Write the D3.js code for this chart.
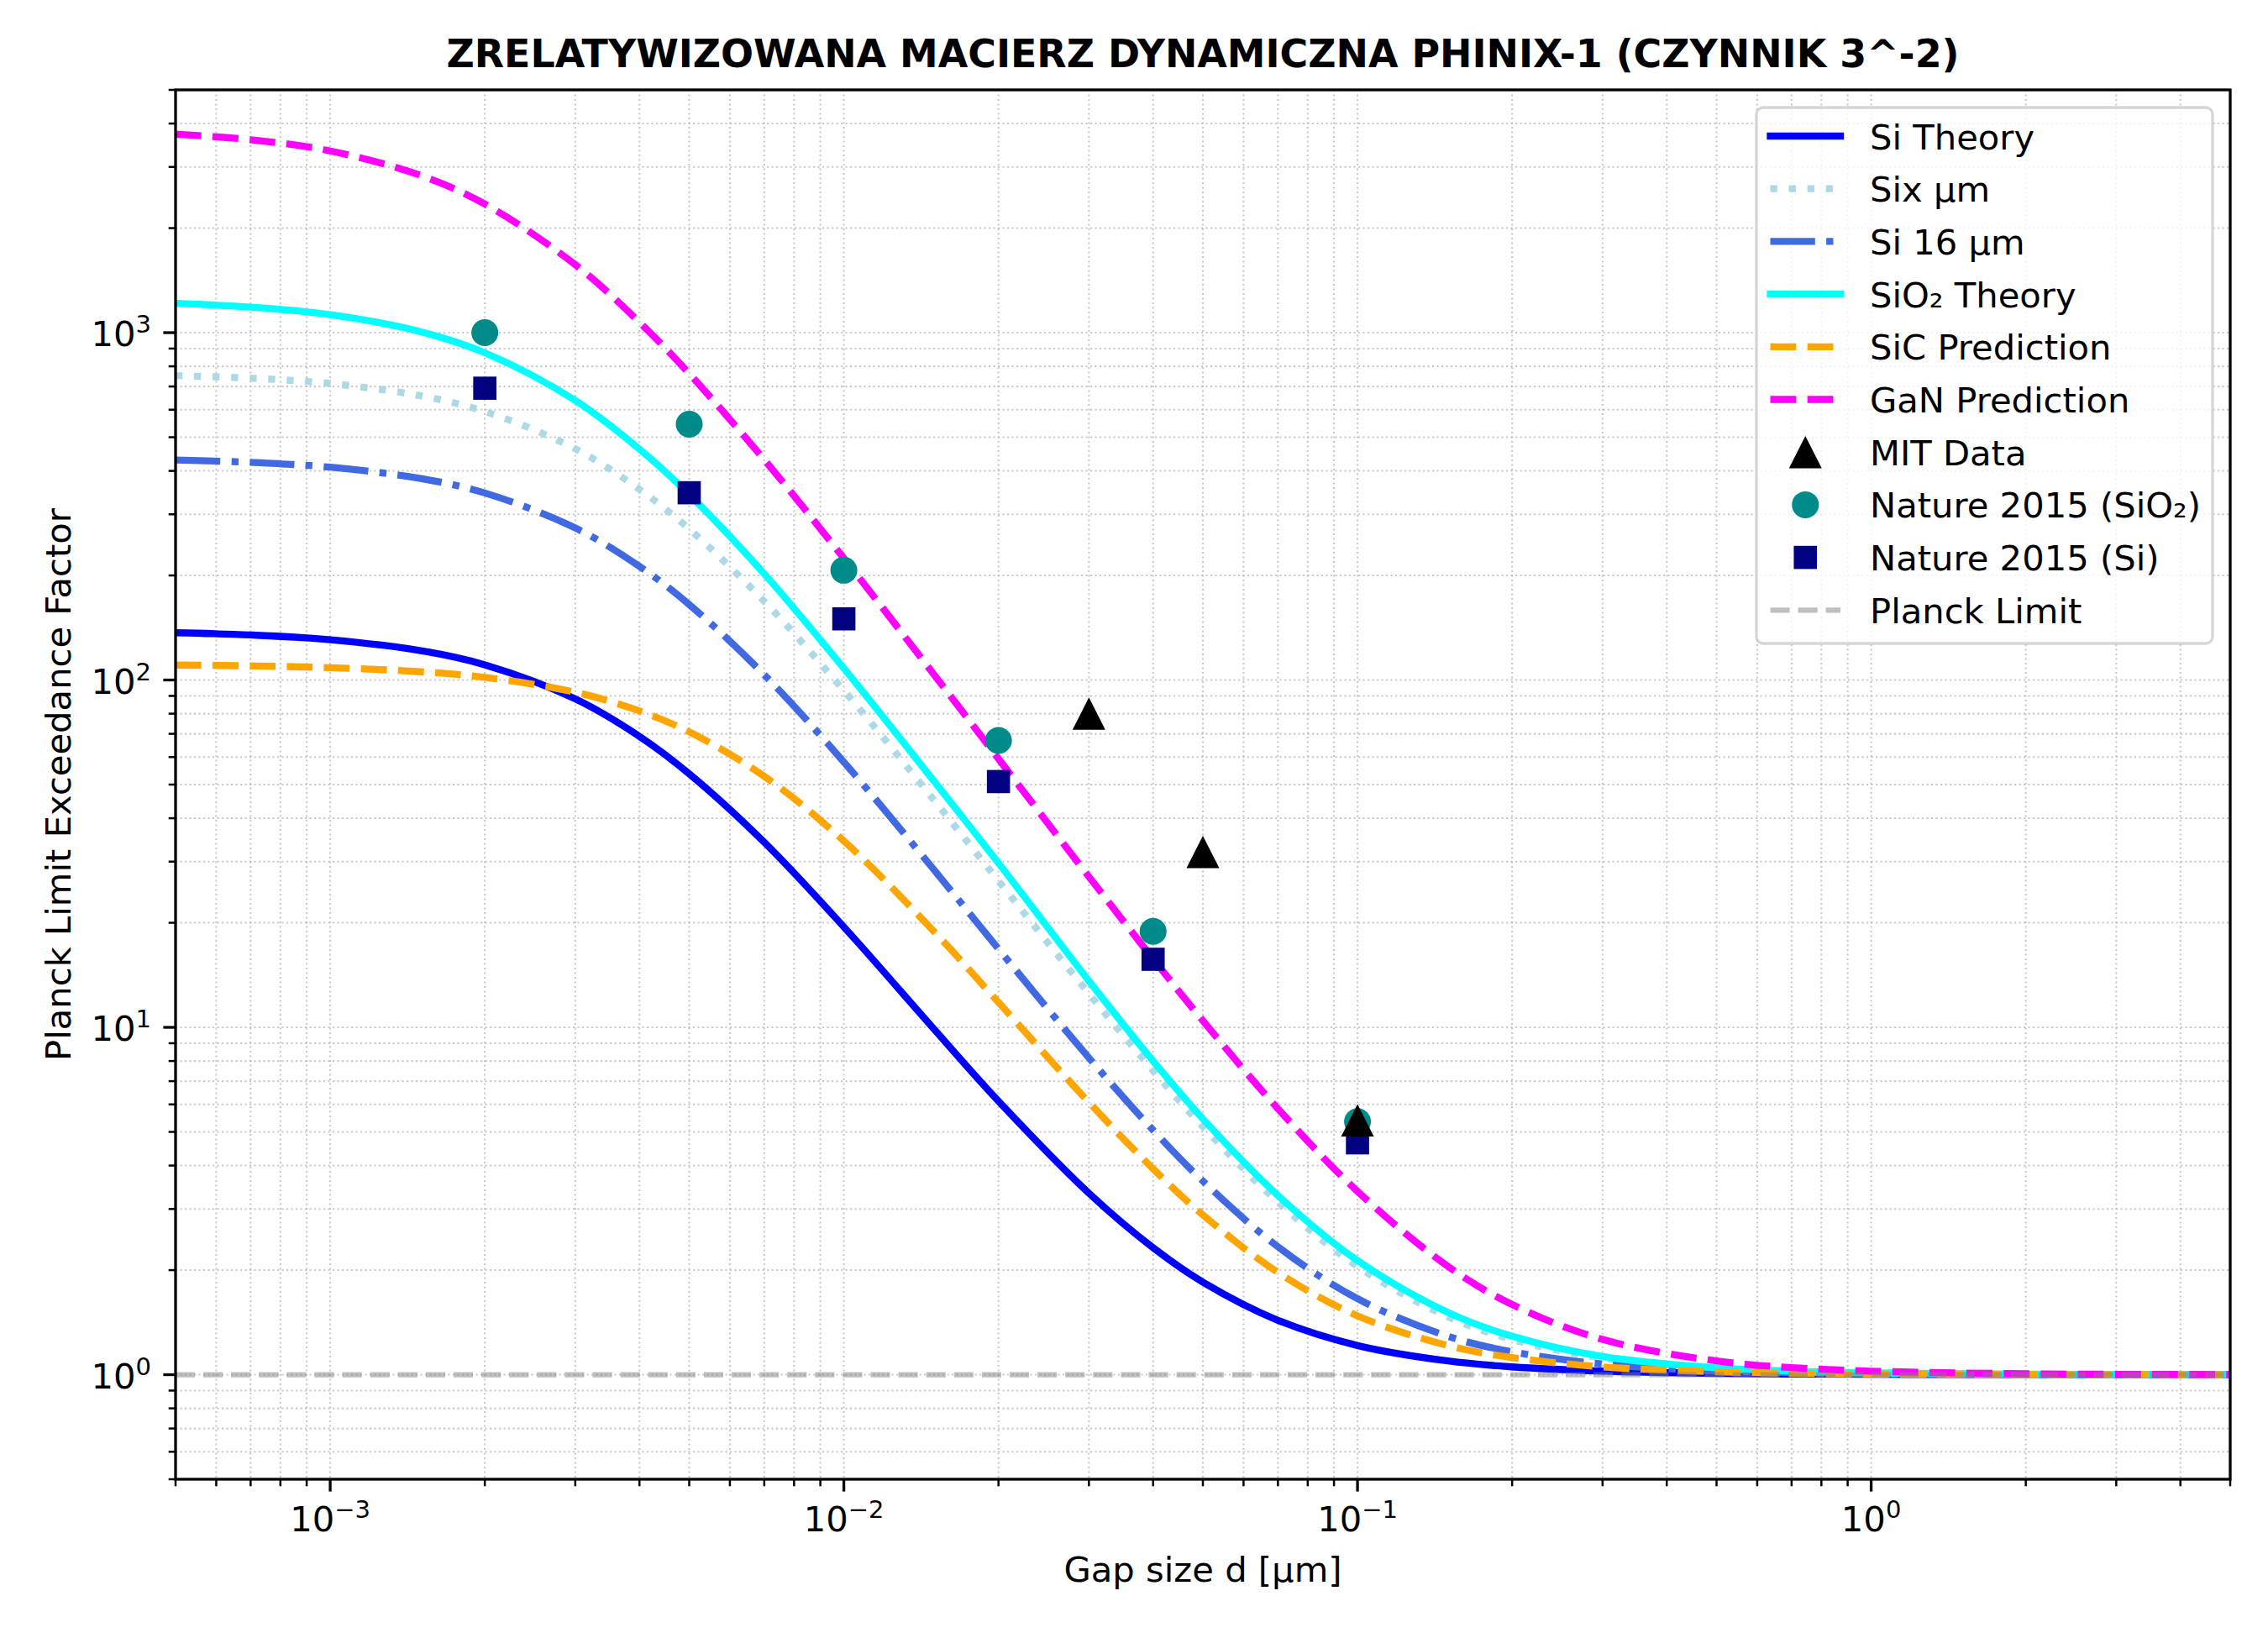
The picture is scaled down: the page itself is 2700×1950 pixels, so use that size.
<!DOCTYPE html>
<html>
<head>
<meta charset="utf-8">
<script src="https://cdn.jsdelivr.net/npm/d3@7"></script>
<style>
  body { margin: 0; background: #fff; }
  text { font-family: 'DejaVu Sans', sans-serif; fill: #000; }
</style>
</head>
<body>
<svg id="chart"></svg>
<script>
// values
const gapSizes = [0.0005, 0.0007, 0.001, 0.0015, 0.002, 0.003, 0.004, 0.005, 0.007, 0.01, 0.015, 0.02,
  0.03, 0.04, 0.05, 0.07, 0.1, 0.15, 0.2, 0.3, 0.5, 0.7, 1, 2, 5]
const siTheory = [136.8, 134.8, 130.6, 121.5, 110.6, 88.2, 68.8, 53.7, 34.1, 19.46, 9.86, 6.13,
  3.33, 2.32, 1.847, 1.434, 1.213, 1.095, 1.053, 1.024, 1.0085, 1.0044, 1.002, 1.0005, 1.0001]
const sixUm = [752, 739.6, 714, 658, 593, 463, 354, 272, 168.4, 93.3, 45, 26.4,
  12.5, 7.5, 5.18, 3.14, 2.05, 1.467, 1.262, 1.117, 1.042, 1.021, 1.0105, 1.0026, 1.0004]
const si16Um = [429.9, 423.3, 409.8, 380.3, 345.5, 273.9, 212.4, 164.9, 103.5, 58.05, 28.34, 16.81,
  8.17, 5.06, 3.61, 2.335, 1.655, 1.29, 1.164, 1.073, 1.026, 1.013, 1.0066, 1.0016, 1.0003]
const sio2Theory = [1214, 1184, 1126, 1006, 875, 638, 462, 342, 202, 108, 51, 29.7,
  13.6, 8.0, 5.45, 3.28, 2.13, 1.51, 1.29, 1.128, 1.046, 1.024, 1.0117, 1.003, 1.0005]
const sicPrediction = [110.4, 109.8, 108.5, 105.6, 101.75, 92.2, 81.45, 70.9, 52.8, 34.4, 18.84, 11.8,
  6.08, 3.915, 2.884, 1.969, 1.477, 1.213, 1.12, 1.053, 1.019, 1.0098, 1.0048, 1.0012, 1.0002]
const ganPrediction = [3728, 3593, 3335, 2836, 2345, 1569, 1072, 762, 430.6, 224.1, 103.4, 59.3,
  27.13, 15.74, 10.45, 5.83, 3.37, 2.05, 1.592, 1.263, 1.095, 1.048, 1.0237, 1.0059, 1.001]

const mitGaps = [0.03, 0.05, 0.1]
const mitData = [80, 32, 5.4]
const natureGaps = [0.002, 0.005, 0.01, 0.02, 0.04, 0.1]
const natureSiO2 = [1000, 545, 207, 67, 18.9, 5.35]
const natureSi = [692, 346, 150, 51, 15.7, 4.65]
const planckLimit = 1

const xTickExps = [-3, -2, -1, 0]
const yTickExps = [0, 1, 2, 3]

const width = 2700,
  height = 1950
const mLeft = 209, mRight = 2655, mTop = 107, mBottom = 1761
const fs = 41.7

const svg = d3.select('#chart')
  .attr('width', width)
  .attr('height', height)
svg.append('rect').attr('width', width).attr('height', height).attr('fill', '#fff')

const x = d3.scaleLog().domain([5e-4, 5]).range([mLeft, mRight])
const y = d3.scaleLog().domain([0.5, 5000]).range([mBottom, mTop])

// all ticks (major + minor) inside the domain
function logTicks(domain) {
  const out = []
  for (let e = -5; e <= 4; e++) {
    for (let m = 1; m <= 9; m++) {
      const v = +(m * Math.pow(10, e)).toPrecision(6)
      if (v >= domain[0] * 0.9999 && v <= domain[1] * 1.0001) out.push({v, major: m === 1})
    }
  }
  return out
}
const xAll = logTicks(x.domain())
const yAll = logTicks(y.domain())

// grid
const grid = svg.append('g')
grid.selectAll('.gx').data(xAll).enter().append('line')
  .attr('x1', d => x(d.v)).attr('x2', d => x(d.v))
  .attr('y1', mTop).attr('y2', mBottom)
  .attr('stroke', '#b0b0b0').attr('stroke-opacity', 0.7)
  .attr('stroke-width', 2.1).attr('stroke-dasharray', '2.1,3.4')
grid.selectAll('.gy').data(yAll).enter().append('line')
  .attr('y1', d => y(d.v)).attr('y2', d => y(d.v))
  .attr('x1', mLeft).attr('x2', mRight)
  .attr('stroke', '#b0b0b0').attr('stroke-opacity', 0.7)
  .attr('stroke-width', 2.1).attr('stroke-dasharray', '2.1,3.4')

svg.append('clipPath').attr('id', 'plotclip')
  .append('rect').attr('x', mLeft).attr('y', mTop).attr('width', mRight - mLeft).attr('height', mBottom - mTop)

const lw = 8.33
const dashes = {
  solid: null,
  dotted: `${lw},${1.65 * lw}`,
  dashdot: `${6.4 * lw},${1.6 * lw},${lw},${1.6 * lw}`,
  dashed: `${3.7 * lw},${1.6 * lw}`
}
const series = [
  {name: 'Si Theory', values: siTheory, color: 'blue', style: 'solid'},
  {name: 'Six μm', values: sixUm, color: 'lightblue', style: 'dotted'},
  {name: 'Si 16 μm', values: si16Um, color: 'royalblue', style: 'dashdot'},
  {name: 'SiO₂ Theory', values: sio2Theory, color: 'cyan', style: 'solid'},
  {name: 'SiC Prediction', values: sicPrediction, color: 'orange', style: 'dashed'},
  {name: 'GaN Prediction', values: ganPrediction, color: 'magenta', style: 'dashed'}
]

const line = d3.line()
  .x(d => x(d[0]))
  .y(d => y(d[1]))
  .curve(d3.curveCatmullRom.alpha(0.5))

const plot = svg.append('g').attr('clip-path', 'url(#plotclip)')
series.forEach(s => {
  plot.append('path')
    .datum(gapSizes.map((g, i) => [g, s.values[i]]))
    .attr('d', line)
    .attr('fill', 'none')
    .attr('stroke', s.color)
    .attr('stroke-width', lw)
    .attr('stroke-linejoin', 'round')
    .attr('stroke-linecap', s.style === 'solid' ? 'square' : 'butt')
    .attr('stroke-dasharray', dashes[s.style])
})

// markers
const triPath = (w, h) => `M0,${-h / 2}L${w / 2},${h / 2}L${-w / 2},${h / 2}Z`
plot.selectAll('.nsio2').data(natureGaps.map((g, i) => [g, natureSiO2[i]])).enter().append('circle')
  .attr('cx', d => x(d[0])).attr('cy', d => y(d[1])).attr('r', 16)
  .attr('fill', 'darkcyan')
plot.selectAll('.nsi').data(natureGaps.map((g, i) => [g, natureSi[i]])).enter().append('rect')
  .attr('x', d => x(d[0]) - 13.8).attr('y', d => y(d[1]) - 13.8)
  .attr('width', 27.6).attr('height', 27.6)
  .attr('fill', 'navy')
plot.selectAll('.mit').data(mitGaps.map((g, i) => [g, mitData[i]])).enter().append('path')
  .attr('transform', d => `translate(${x(d[0])},${y(d[1])})`)
  .attr('d', triPath(39, 38.5))
  .attr('fill', 'black')

plot.append('line')
  .attr('x1', mLeft).attr('x2', mRight)
  .attr('y1', y(planckLimit)).attr('y2', y(planckLimit))
  .attr('stroke', 'gray').attr('stroke-opacity', 0.5)
  .attr('stroke-width', 6.25)
  .attr('stroke-dasharray', '23.1,10')

// frame
svg.append('rect')
  .attr('x', mLeft).attr('y', mTop).attr('width', mRight - mLeft).attr('height', mBottom - mTop)
  .attr('fill', 'none').attr('stroke', '#000').attr('stroke-width', 3.3)

// ticks
const axes = svg.append('g')
axes.selectAll('.tx').data(xAll).enter().append('line')
  .attr('x1', d => x(d.v)).attr('x2', d => x(d.v))
  .attr('y1', mBottom).attr('y2', d => mBottom + (d.major ? 14.6 : 8.3))
  .attr('stroke', '#000').attr('stroke-width', d => d.major ? 3.3 : 2.5)
axes.selectAll('.ty').data(yAll).enter().append('line')
  .attr('y1', d => y(d.v)).attr('y2', d => y(d.v))
  .attr('x1', mLeft).attr('x2', d => mLeft - (d.major ? 14.6 : 8.3))
  .attr('stroke', '#000').attr('stroke-width', d => d.major ? 3.3 : 2.5)

function powerLabel(sel, e) {
  sel.append('tspan').text('10')
  sel.append('tspan').attr('dy', -16).attr('font-size', 29)
    .text(e < 0 ? '\u2212' + (-e) : String(e))
}
xTickExps.forEach(e => {
  const t = axes.append('text')
    .attr('x', x(Math.pow(10, e)))
    .attr('y', 1823)
    .attr('text-anchor', 'middle')
    .attr('font-size', fs)
  powerLabel(t, e)
})
yTickExps.forEach(e => {
  const t = axes.append('text')
    .attr('x', 180)
    .attr('y', y(Math.pow(10, e)) + 16)
    .attr('text-anchor', 'end')
    .attr('font-size', fs)
  powerLabel(t, e)
})

// labels
svg.append('text')
  .attr('x', (mLeft + mRight) / 2).attr('y', 80)
  .attr('text-anchor', 'middle')
  .attr('font-size', 45.9).attr('font-weight', 'bold')
  .text('ZRELATYWIZOWANA MACIERZ DYNAMICZNA PHINIX-1 (CZYNNIK 3^-2)')
svg.append('text')
  .attr('x', (mLeft + mRight) / 2).attr('y', 1883)
  .attr('text-anchor', 'middle')
  .attr('font-size', fs)
  .text('Gap size d [μm]')
svg.append('text')
  .attr('transform', `translate(84,${(mTop + mBottom) / 2}) rotate(-90)`)
  .attr('text-anchor', 'middle')
  .attr('font-size', fs)
  .text('Planck Limit Exceedance Factor')

// legend
const legendItems = [
  ...series.map(s => ({name: s.name, kind: 'line', color: s.color, style: s.style, width: lw})),
  {name: 'MIT Data', kind: 'tri', color: 'black'},
  {name: 'Nature 2015 (SiO₂)', kind: 'circle', color: 'darkcyan'},
  {name: 'Nature 2015 (Si)', kind: 'square', color: 'navy'},
  {name: 'Planck Limit', kind: 'line', color: 'gray', opacity: 0.5, style: 'planck', width: 6.25}
]
const legend = svg.append('g')
legend.append('rect')
  .attr('x', 2091).attr('y', 128).attr('width', 2634 - 2091).attr('height', 766 - 128)
  .attr('rx', 8).attr('ry', 8)
  .attr('fill', '#fff').attr('fill-opacity', 0.8)
  .attr('stroke', '#cccccc').attr('stroke-opacity', 0.8).attr('stroke-width', 3.3)

const hx0 = 2107.5, hx1 = 2191, hxc = (hx0 + hx1) / 2
legendItems.forEach((it, i) => {
  const cy = 162 + 62.7 * i
  if (it.kind === 'line') {
    legend.append('line')
      .attr('x1', hx0).attr('x2', hx1).attr('y1', cy).attr('y2', cy)
      .attr('stroke', it.color).attr('stroke-opacity', it.opacity || 1)
      .attr('stroke-width', it.width)
      .attr('stroke-linecap', it.style === 'solid' ? 'square' : 'butt')
      .attr('stroke-dasharray', it.style === 'planck' ? '23.1,10' : dashes[it.style])
  } else if (it.kind === 'tri') {
    legend.append('path').attr('transform', `translate(${hxc},${cy})`)
      .attr('d', triPath(39, 38.5)).attr('fill', it.color)
  } else if (it.kind === 'circle') {
    legend.append('circle').attr('cx', hxc).attr('cy', cy).attr('r', 16).attr('fill', it.color)
  } else {
    legend.append('rect').attr('x', hxc - 13.8).attr('y', cy - 13.8)
      .attr('width', 27.6).attr('height', 27.6).attr('fill', it.color)
  }
  legend.append('text')
    .attr('x', 2226).attr('y', cy + 15.5)
    .attr('font-size', fs)
    .text(it.name)
})
</script>
</body>
</html>
